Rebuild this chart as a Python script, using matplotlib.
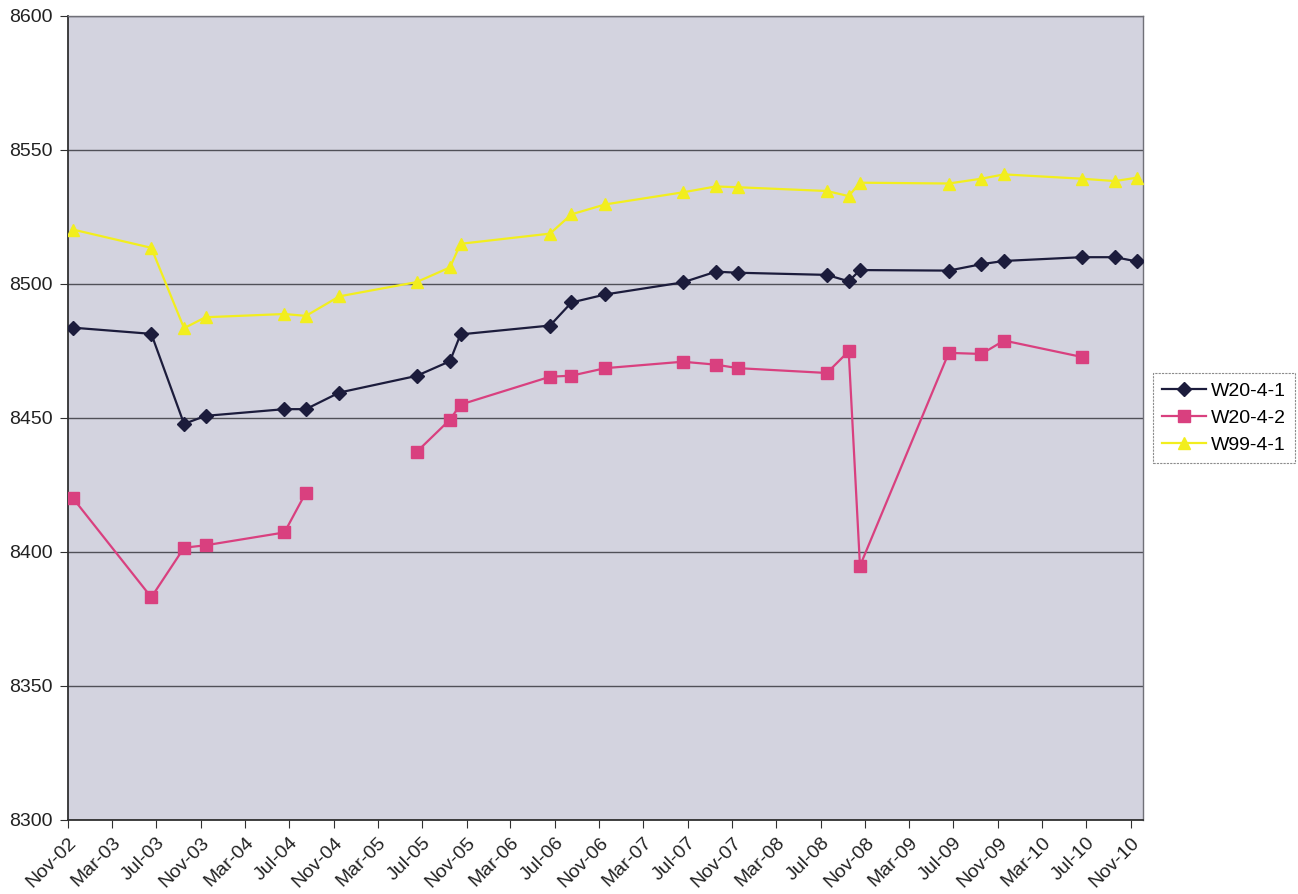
import matplotlib
matplotlib.use("Agg")
import matplotlib.pyplot as plt
import matplotlib.dates as mdates
import numpy as np
import pandas as pd

dates = ["2002-11-15", "2003-06-18", "2003-09-16", "2003-11-14", "2004-06-18",
         "2004-08-16", "2004-11-16", "2005-06-16", "2005-09-16", "2005-10-15",
         "2006-06-18", "2006-08-16", "2006-11-17", "2007-06-18", "2007-09-17",
         "2007-11-17", "2008-07-18", "2008-09-16", "2008-10-17", "2009-06-18",
         "2009-09-16", "2009-11-17", "2010-06-18", "2010-09-18", "2010-11-18"]

w20_4_1 = [8483.7, 8481.4, 8447.8, 8450.8, 8453.3, 8453.3, 8459.5, 8465.7, 8471.2, 8481.2,
           8484.5, 8493.1, 8496.1, 8500.6, 8504.6, 8504.2, 8503.4, 8501.0, 8505.2, 8505.0,
           8507.4, 8508.6, 8510.0, 8510.0, 8508.4]
w20_4_2 = [8420.0, 8383.1, 8401.6, 8402.5, 8407.3, 8422.2, np.nan, 8437.3, 8449.4, 8455.0,
           8465.4, 8465.8, 8468.6, 8471.0, 8469.9, 8468.6, 8466.8, 8474.9, 8394.8, 8474.3,
           8473.9, 8478.9, 8472.8, np.nan, np.nan]
w99_4_1 = [8520.3, 8513.5, 8483.5, 8487.6, 8488.8, 8488.1, 8495.4, 8500.7, 8506.2, 8515.0,
           8518.8, 8526.0, 8529.7, 8534.2, 8536.4, 8536.1, 8534.7, 8532.8, 8537.8, 8537.5,
           8539.3, 8540.9, 8539.3, 8538.4, 8539.7]

series_names = ["W20-4-1", "W20-4-2", "W99-4-1"]
y_ticks = [8300, 8350, 8400, 8450, 8500, 8550, 8600]

x = pd.to_datetime(dates)

plt.rcParams['font.family'] = ['Liberation Sans', 'DejaVu Sans']

fig = plt.figure(figsize=(12.98, 8.94), dpi=100)
fig.patch.set_facecolor('white')
ax = fig.add_axes([68/1298, 1-820/894, (1143-68)/1298, (820-16)/894])
ax.set_facecolor('#d3d3df')

ax.plot(x, w20_4_1, color='#1c1c3c', lw=1.6, marker='D', ms=7.5, label=series_names[0], zorder=3)
ax.plot(x, w20_4_2, color='#d9407f', lw=1.6, marker='s', ms=8, label=series_names[1], zorder=3)
ax.plot(x, w99_4_1, color='#f2ee1e', lw=1.6, marker='^', ms=8.5, label=series_names[2], zorder=3)

ax.set_ylim(8300, 8600)
ax.set_yticks(y_ticks)
ax.set_xlim(pd.Timestamp("2002-11-01"), pd.Timestamp("2010-12-04"))
ax.xaxis.set_major_locator(mdates.MonthLocator(bymonth=[3, 7, 11], bymonthday=1))
ax.xaxis.set_major_formatter(mdates.DateFormatter('%b-%y'))

ax.grid(axis='y', color='#505058', lw=1.0, zorder=1)
ax.set_axisbelow(True)
for s in ax.spines.values():
    s.set_color('#707078')
    s.set_linewidth(1.0)
ax.spines['left'].set_color('#303030')
ax.spines['bottom'].set_color('#303030')
ax.spines['left'].set_linewidth(1.3)
ax.spines['bottom'].set_linewidth(1.3)

ax.tick_params(axis='both', labelsize=14, colors='#303030', labelcolor='#222222',
               direction='out', length=6)
ax.tick_params(axis='y', pad=5)
ax.tick_params(axis='x', pad=4)
plt.setp(ax.get_xticklabels(), rotation=45, ha='right', rotation_mode='anchor')

leg = fig.legend(loc='lower left', bbox_to_anchor=(1153/1298, 1-463/894), fontsize=14,
                 frameon=True, fancybox=False, edgecolor='#707070', handlelength=2.3,
                 borderpad=0.45, labelspacing=0.5, handletextpad=0.25, borderaxespad=0)
leg.get_frame().set_linewidth(0.8)
leg.get_frame().set_linestyle((0, (2, 1)))

fig.savefig("out.png", dpi=100)
